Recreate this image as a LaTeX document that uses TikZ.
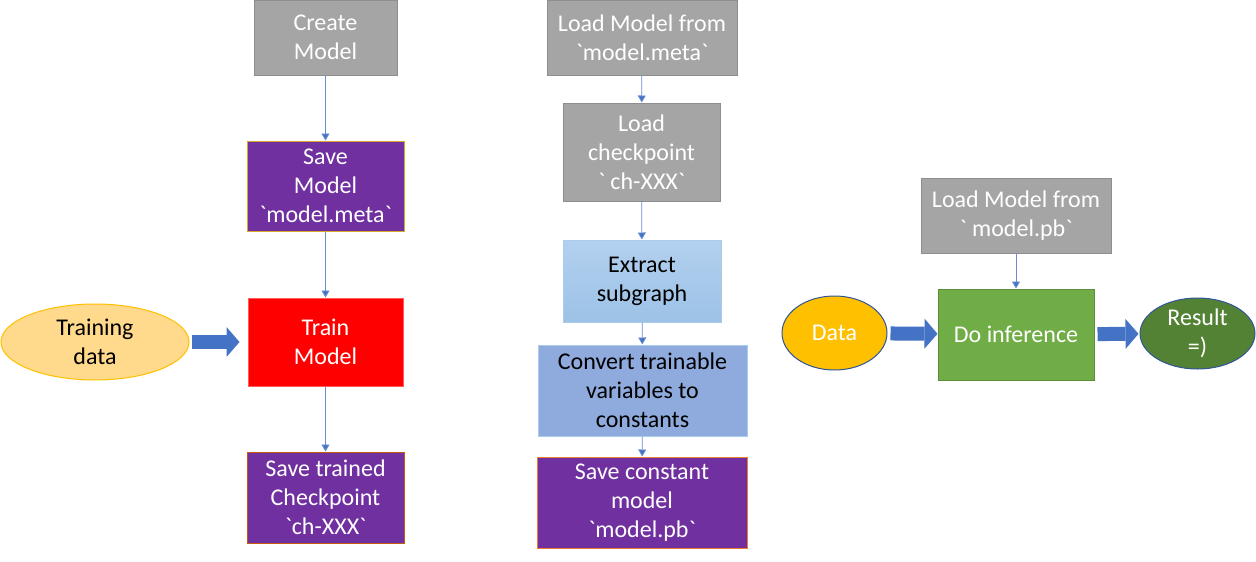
\documentclass[tikz,border=0pt]{standalone}
\usepackage{fontspec}
\setmainfont{Carlito}
\usetikzlibrary{shapes.geometric,arrows.meta}
\definecolor{boxgray}{HTML}{A5A5A5}
\definecolor{graydraw}{HTML}{8E8E8E}
\definecolor{savepurple}{HTML}{7030A0}
\definecolor{goldline}{HTML}{D9A62E}
\definecolor{brownline}{HTML}{C55A11}
\definecolor{orangeline}{HTML}{ED7D31}
\definecolor{trainred}{HTML}{FF0000}
\definecolor{trainline}{HTML}{FF5B5B}
\definecolor{datalight}{HTML}{FFD98C}
\definecolor{datagold}{HTML}{FFC000}
\definecolor{extracttop}{HTML}{B3D0EF}
\definecolor{extractbot}{HTML}{9CC2E6}
\definecolor{extractline}{HTML}{A9CBEC}
\definecolor{convertblue}{HTML}{8FAADC}
\definecolor{inferblue}{HTML}{70AD47}
\definecolor{inferline}{HTML}{5A8F3A}
\definecolor{resultgreen}{HTML}{548235}
\definecolor{ovalline}{HTML}{2F5597}
\definecolor{linkblue}{HTML}{4472C4}
\newcommand{\bq}{\textasciigrave}

\begin{document}
\begin{tikzpicture}[x=1pt,y=-1pt,
    box/.style={draw, line width=1pt, align=center, inner sep=0pt, font=\fontsize{24}{29}\selectfont},
    graybox/.style={box, fill=boxgray, draw=graydraw, text=white},
    savebox/.style={box, fill=savepurple, text=white},
    oval/.style={ellipse, draw, line width=1pt, align=center, inner sep=0pt, font=\fontsize{24}{29}\selectfont},
    link/.style={draw=linkblue!80, line width=0.8pt, -{Triangle[width=8pt,length=7pt,fill=linkblue]}},
    bigarrow/.style={draw=linkblue, line width=14pt, -{Triangle[width=30pt,length=13pt,line width=0pt]}}]
    \useasboundingbox (0,0) rectangle (1256,562);

    % training
    \node[graybox, minimum width=143, minimum height=75] (create) at (325.5,37.5) {Create\\Model};
    \node[savebox, draw=goldline, minimum width=157, minimum height=90] (savemeta) at (325.5,186) {Save\\Model\\\bq model.meta\bq};
    \node[box, fill=trainred, draw=trainline, text=white, minimum width=155, minimum height=88] (train) at (325.5,342) {Train\\Model};
    \node[savebox, draw=brownline, minimum width=157, minimum height=91] (saveckpt) at (325.5,497.5) {Save trained\\Checkpoint\\\bq ch-XXX\bq};
    \node[oval, fill=datalight, draw=datagold, minimum width=188, minimum height=76] (trainingdata) at (95,342) {Training\\data};

    \draw[link] (create) -- (savemeta);
    \draw[link] (savemeta) -- (train);
    \draw[link] (train) -- (saveckpt);
    \draw[bigarrow, shorten <=2pt, shorten >=8pt] (trainingdata) -- (train);

    % freezing
    \node[graybox, minimum width=190, minimum height=75] (loadmeta) at (642,37.5) {Load Model from\\\bq model.meta\bq};
    \node[graybox, minimum width=157, minimum height=98] (loadckpt) at (641.5,152) {Load\\checkpoint\\\bq{} ch-XXX\bq};
    \node[box, top color=extracttop, bottom color=extractbot, draw=extractline, minimum width=158, minimum height=82] (extract) at (642,281) {Extract\\subgraph};
    \node[box, fill=convertblue, draw=extractline, minimum width=209, minimum height=91] (convert) at (642.5,390.5) {Convert trainable\\variables to\\constants};
    \node[savebox, draw=orangeline, minimum width=210, minimum height=91] (saveconst) at (642,502.5) {Save constant\\model\\\bq model.pb\bq};

    \draw[link] (loadmeta) -- (loadckpt);
    \draw[link] (loadckpt) -- (extract);
    \draw[link] (extract) -- (convert);
    \draw[link] (convert) -- (saveconst);

    % inference
    \node[graybox, minimum width=190, minimum height=75] (loadpb) at (1016,215.5) {Load Model from\\\bq{} model.pb\bq};
    \node[box, fill=inferblue, draw=inferline, text=white, minimum width=156, minimum height=91] (infer) at (1016,334.5) {Do inference};
    \node[oval, fill=datagold, draw=ovalline, text=white, minimum width=105, minimum height=74] (data) at (834.5,333) {Data};
    \node[oval, fill=resultgreen, draw=ovalline, text=white, minimum width=115, minimum height=71] (result) at (1197.5,333.5) {Result\\=)};

    \draw[link] (loadpb) -- (infer);
    \draw[bigarrow, shorten <=3pt] (data) -- (infer);
    \draw[bigarrow, shorten <=3pt, shorten >=1pt] (infer) -- (result);
\end{tikzpicture}
\end{document}
